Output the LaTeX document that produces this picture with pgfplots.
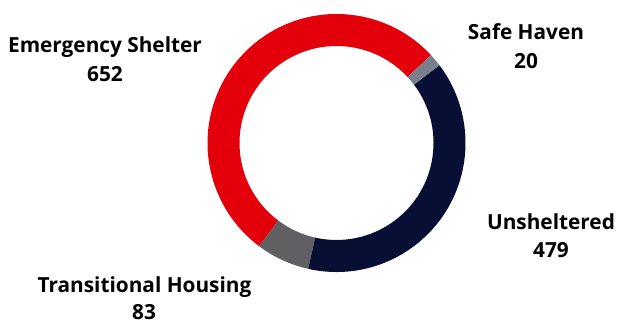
\documentclass[border=0pt]{standalone}
\usepackage{fontspec}
\setmainfont{Open Sans}
\usepackage{pgfplots}
\usepackage{pgfplotstable}
\pgfplotsset{compat=1.18}
\definecolor{esred}{RGB}{227,0,11}
\definecolor{thgray}{RGB}{96,96,98}
\definecolor{unnavy}{RGB}{8,15,52}
\definecolor{shgray}{RGB}{122,127,142}
\pgfplotstableread{
label value
Emergency 652
Transitional 83
Unsheltered 479
Safe 20
}\donutdata
\begin{document}%
\pgfplotstablegetelem{0}{value}\of\donutdata\let\vA\pgfplotsretval%
\pgfplotstablegetelem{1}{value}\of\donutdata\let\vB\pgfplotsretval%
\pgfplotstablegetelem{2}{value}\of\donutdata\let\vC\pgfplotsretval%
\pgfplotstablegetelem{3}{value}\of\donutdata\let\vD\pgfplotsretval%
\pgfmathsetmacro\total{\vA+\vB+\vC+\vD}%
\pgfmathsetmacro\aA{42.9}%
\pgfmathsetmacro\aB{\aA+\vA/\total*360}%
\pgfmathsetmacro\aC{\aB+\vB/\total*360}%
\pgfmathsetmacro\aD{\aC+\vC/\total*360}%
\pgfmathsetmacro\aE{\aD+\vD/\total*360}%
\def\Ro{129pt}\def\Ri{97pt}%
\def\cx{336.5}\def\cy{182}%
\begin{tikzpicture}
\begin{axis}[x=1pt,y=1pt,xmin=0,xmax=617,ymin=0,ymax=320,
  scale only axis,axis lines=none,clip=false,
  ticks=none]
\addplot[draw=none] coordinates {(0,0) (617,320)};
\newcommand\seg[3]{%
  \fill[#3] ([shift={(#1:\Ro)}]axis cs:\cx,\cy) arc[start angle=#1,end angle=#2,radius=\Ro]
    -- ([shift={(#2:\Ri)}]axis cs:\cx,\cy) arc[start angle=#2,end angle=#1,radius=\Ri] -- cycle;}
\seg{\aA}{\aB}{esred}
\seg{\aB}{\aC}{thgray}
\seg{\aC}{\aD}{unnavy}
\seg{\aD}{\aE}{shgray}
\tikzset{lab/.style={anchor=base,font=\fontsize{20.8}{24}\selectfont\bfseries,inner sep=0pt}}
\node[lab] at (axis cs:105,{320-47.3}) {Emergency Shelter};
\node[lab] at (axis cs:105,{320-76.7}) {652};
\node[lab] at (axis cs:526,{320-35}) {Safe Haven};
\node[lab] at (axis cs:526,{320-63.3}) {20};
\node[lab] at (axis cs:551,{320-224.3}) {Unsheltered};
\node[lab] at (axis cs:551,{320-252.3}) {479};
\node[lab] at (axis cs:144.5,{320-287.7}) {Transitional Housing};
\node[lab] at (axis cs:144,{320-315}) {83};
\end{axis}
\end{tikzpicture}%
\end{document}
